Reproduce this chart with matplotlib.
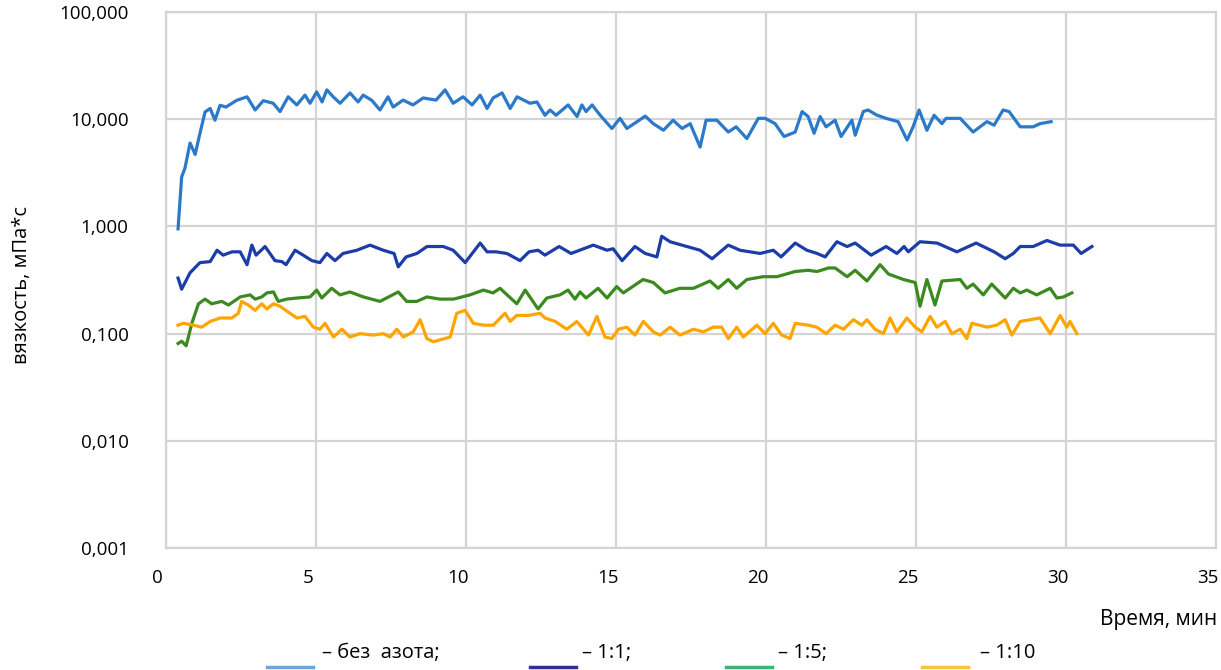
import numpy as np
import matplotlib
matplotlib.use('Agg')
import matplotlib.pyplot as plt
from matplotlib.ticker import FixedLocator, FuncFormatter
from matplotlib.lines import Line2D
from matplotlib.transforms import ScaledTranslation

# viscosity vs time, four gas ratios
t1 = [0.4, 0.52, 0.63, 0.8, 0.97, 1.13, 1.3, 1.47, 1.63, 1.8,
      2.0, 2.35, 2.7, 2.97, 3.24, 3.57, 3.8, 4.07, 4.36, 4.63,
      4.8, 5.02, 5.2, 5.36, 5.57, 5.8, 6.13, 6.4, 6.57, 6.86,
      7.13, 7.4, 7.57, 7.9, 8.23, 8.57, 9.0, 9.3, 9.57, 9.9,
      10.2, 10.47, 10.7, 10.9, 11.2, 11.47, 11.7, 12.13, 12.36, 12.63,
      12.8, 13.0, 13.4, 13.7, 13.86, 14.0, 14.2, 14.47, 14.86, 15.13,
      15.36, 15.7, 15.97, 16.24, 16.58, 16.9, 17.2, 17.47, 17.8, 18.0,
      18.36, 18.74, 19.0, 19.36, 19.74, 19.97, 20.3, 20.6, 20.97, 21.2,
      21.4, 21.6, 21.8, 22.0, 22.3, 22.5, 22.86, 22.97, 23.24, 23.4,
      23.7, 24.0, 24.4, 24.7, 24.9, 25.1, 25.36, 25.6, 25.86, 26.0,
      26.47, 26.9, 27.36, 27.6, 27.9, 28.1, 28.47, 28.9, 29.13, 29.5]
v1 = [0.95, 2.9, 3.5, 6.0, 4.7, 7.4, 11.7, 12.6, 9.8, 13.5,
      13.0, 15.0, 16.2, 12.2, 14.9, 14.1, 11.8, 16.2, 13.6, 16.8,
      14.1, 18.0, 14.5, 18.8, 16.2, 14.1, 17.6, 14.5, 16.8, 15.0,
      12.2, 16.2, 13.0, 15.1, 13.6, 15.8, 15.1, 18.8, 14.1, 16.2,
      13.6, 16.8, 12.6, 15.8, 17.6, 12.6, 16.2, 14.1, 14.5, 10.9,
      12.2, 10.9, 13.6, 10.6, 13.6, 11.8, 13.6, 10.9, 8.2, 10.2,
      8.2, 9.5, 10.7, 9.1, 7.9, 9.8, 8.2, 9.1, 5.5, 9.8,
      9.8, 7.6, 8.5, 6.6, 10.2, 10.2, 9.1, 6.9, 7.6, 11.8,
      10.6, 7.4, 10.6, 8.5, 9.8, 6.9, 9.8, 7.1, 11.8, 12.2,
      10.9, 10.2, 9.5, 6.4, 8.5, 12.2, 7.9, 10.9, 9.1, 10.2,
      10.2, 7.6, 9.5, 8.8, 12.2, 11.8, 8.5, 8.5, 9.1, 9.5]

t2 = [0.4, 0.52, 0.8, 1.13, 1.47, 1.7, 1.9, 2.2, 2.47, 2.7,
      2.86, 3.0, 3.3, 3.63, 3.86, 4.0, 4.3, 4.57, 4.86, 5.13,
      5.36, 5.63, 5.9, 6.36, 6.8, 7.24, 7.6, 7.74, 8.0, 8.36,
      8.7, 9.24, 9.57, 9.97, 10.47, 10.7, 11.0, 11.36, 11.8, 12.1,
      12.4, 12.63, 13.1, 13.5, 14.24, 14.7, 14.9, 15.2, 15.63, 15.97,
      16.36, 16.52, 16.8, 17.36, 17.8, 18.2, 18.74, 19.13, 19.8, 20.24,
      20.5, 20.97, 21.36, 21.7, 21.97, 22.36, 22.7, 22.97, 23.5, 24.0,
      24.36, 24.6, 24.74, 25.13, 25.7, 26.36, 27.0, 27.6, 27.97, 28.24,
      28.47, 28.9, 29.36, 29.8, 30.24, 30.5, 30.86]
v2 = [0.33, 0.26, 0.37, 0.46, 0.47, 0.6, 0.54, 0.58, 0.58, 0.44,
      0.67, 0.54, 0.65, 0.48, 0.47, 0.44, 0.6, 0.54, 0.48, 0.46,
      0.56, 0.48, 0.56, 0.6, 0.67, 0.6, 0.56, 0.42, 0.52, 0.56,
      0.65, 0.65, 0.6, 0.46, 0.7, 0.58, 0.58, 0.56, 0.48, 0.58,
      0.6, 0.54, 0.65, 0.56, 0.67, 0.6, 0.62, 0.48, 0.65, 0.56,
      0.52, 0.81, 0.72, 0.65, 0.6, 0.5, 0.67, 0.6, 0.56, 0.6,
      0.52, 0.7, 0.6, 0.56, 0.52, 0.72, 0.65, 0.7, 0.54, 0.65,
      0.56, 0.65, 0.58, 0.72, 0.7, 0.58, 0.7, 0.58, 0.5, 0.56,
      0.65, 0.65, 0.74, 0.67, 0.67, 0.56, 0.65]

t3 = [0.4, 0.52, 0.67, 0.86, 1.08, 1.3, 1.52, 1.86, 2.08, 2.47,
      2.8, 2.97, 3.19, 3.36, 3.58, 3.74, 4.02, 4.36, 4.8, 5.02,
      5.19, 5.52, 5.8, 6.13, 6.58, 7.13, 7.74, 8.02, 8.36, 8.69,
      9.13, 9.58, 10.13, 10.58, 10.9, 11.13, 11.69, 11.97, 12.4, 12.69,
      13.13, 13.4, 13.63, 13.8, 14.0, 14.4, 14.7, 15.02, 15.24, 15.9,
      16.24, 16.63, 17.13, 17.58, 18.13, 18.4, 18.74, 19.02, 19.36, 19.9,
      20.36, 20.97, 21.4, 21.7, 22.08, 22.3, 22.7, 22.97, 23.36, 23.8,
      24.08, 24.58, 24.97, 25.13, 25.36, 25.63, 25.86, 26.47, 26.69, 26.9,
      27.24, 27.52, 27.97, 28.24, 28.47, 28.69, 29.02, 29.47, 29.69, 29.91,
      30.19]
v3 = [0.081, 0.085, 0.077, 0.125, 0.19, 0.21, 0.19, 0.2, 0.185, 0.22,
      0.23, 0.21, 0.22, 0.24, 0.245, 0.2, 0.21, 0.215, 0.22, 0.255,
      0.215, 0.265, 0.23, 0.245, 0.22, 0.2, 0.245, 0.2, 0.2, 0.22,
      0.21, 0.21, 0.23, 0.255, 0.24, 0.265, 0.19, 0.255, 0.17, 0.215,
      0.23, 0.255, 0.21, 0.245, 0.215, 0.265, 0.215, 0.275, 0.24, 0.32,
      0.3, 0.24, 0.265, 0.265, 0.31, 0.265, 0.32, 0.265, 0.32, 0.34,
      0.34, 0.38, 0.39, 0.38, 0.41, 0.41, 0.34, 0.39, 0.31, 0.44,
      0.36, 0.32, 0.3, 0.18, 0.32, 0.185, 0.31, 0.32, 0.265, 0.29,
      0.23, 0.29, 0.215, 0.265, 0.24, 0.255, 0.23, 0.265, 0.215, 0.22,
      0.24]

t4 = [0.4, 0.58, 0.91, 1.19, 1.47, 1.8, 2.19, 2.41, 2.52, 2.74,
      2.97, 3.19, 3.36, 3.58, 3.8, 4.13, 4.36, 4.63, 4.91, 5.13,
      5.3, 5.58, 5.86, 6.13, 6.47, 6.91, 7.24, 7.47, 7.69, 7.91,
      8.24, 8.47, 8.69, 8.91, 9.47, 9.69, 9.97, 10.24, 10.58, 10.91,
      11.3, 11.47, 11.69, 12.08, 12.47, 12.63, 12.97, 13.36, 13.69, 14.08,
      14.36, 14.63, 14.86, 15.08, 15.36, 15.63, 15.91, 16.24, 16.47, 16.8,
      17.13, 17.58, 17.91, 18.24, 18.52, 18.74, 19.02, 19.24, 19.69, 19.97,
      20.24, 20.52, 20.8, 20.97, 21.41, 21.69, 22.0, 22.3, 22.58, 22.91,
      23.19, 23.36, 23.63, 23.91, 24.13, 24.36, 24.69, 24.97, 25.19, 25.47,
      25.69, 25.97, 26.19, 26.47, 26.69, 26.86, 27.36, 27.69, 27.97, 28.19,
      28.47, 28.8, 29.13, 29.47, 29.8, 30.02, 30.13, 30.36]
v4 = [0.12, 0.125, 0.12, 0.115, 0.13, 0.14, 0.14, 0.155, 0.2, 0.185,
      0.165, 0.19, 0.17, 0.19, 0.18, 0.155, 0.14, 0.145, 0.115, 0.11,
      0.125, 0.093, 0.11, 0.093, 0.1, 0.097, 0.1, 0.093, 0.11, 0.093,
      0.104, 0.135, 0.09, 0.084, 0.093, 0.155, 0.165, 0.125, 0.12, 0.12,
      0.155, 0.13, 0.148, 0.148, 0.155, 0.14, 0.13, 0.11, 0.13, 0.097,
      0.145, 0.093, 0.09, 0.11, 0.115, 0.097, 0.13, 0.104, 0.097, 0.115,
      0.097, 0.11, 0.104, 0.115, 0.115, 0.09, 0.115, 0.093, 0.12, 0.1,
      0.125, 0.097, 0.09, 0.125, 0.12, 0.115, 0.1, 0.12, 0.11, 0.135,
      0.12, 0.135, 0.11, 0.1, 0.14, 0.104, 0.14, 0.115, 0.104, 0.145,
      0.115, 0.13, 0.1, 0.11, 0.09, 0.125, 0.115, 0.12, 0.135, 0.097,
      0.13, 0.135, 0.14, 0.1, 0.148, 0.115, 0.13, 0.1]

labels = ['– без  азота;', '– 1:1;', '– 1:5;', '– 1:10']
line_colors = ['#2b79c9', '#1c3da8', '#3b8a1e', '#ffa500']
key_colors = ['#6fa3dc', '#2e3192', '#3cb371', '#f5c342']
y_ticks = [0.001, 0.01, 0.1, 1, 10, 100]
x_ticks = [0, 5, 10, 15, 20, 25, 30, 35]

grid_c = '#d4d4d4'
plt.rcParams['font.family'] = ['Open Sans', 'DejaVu Sans']

fig = plt.figure(figsize=(12.21, 6.70), dpi=100)
ax = fig.add_axes([0.136, 0.182, 0.860, 0.800])

for tt, vv, cc in zip([t1, t2, t3, t4], [v1, v2, v3, v4], line_colors):
    ax.plot(tt, vv, color=cc, lw=2.3, solid_joinstyle='round', zorder=3)

ax.set_yscale('log')
ax.set_ylim(0.001, 100)
ax.set_xlim(0, 35)
ax.yaxis.set_major_locator(FixedLocator(y_ticks))
ax.yaxis.set_minor_locator(FixedLocator([]))
ax.yaxis.set_major_formatter(FuncFormatter(lambda v, p: ('%.3f' % v).replace('.', ',')))
ax.set_xticks(x_ticks)
ax.tick_params(length=0, labelsize=13.5)
ax.tick_params(axis='y', pad=27)
ax.tick_params(axis='x', pad=15)
# x labels sit a little left of their gridlines in the original
shift = ScaledTranslation(-6 / 72, 0, fig.dpi_scale_trans)
for lb in ax.get_xticklabels():
    lb.set_transform(lb.get_transform() + shift)
ax.grid(True, color=grid_c, lw=1.6)
for sp in ax.spines.values():
    sp.set_color(grid_c)
    sp.set_linewidth(1.6)
ax.set_axisbelow(True)

ax.set_ylabel('вязкость, мПа*с', fontsize=14.5)
ax.yaxis.set_label_coords(-0.128, 0.49)
fig.text(0.997, 0.075, 'Время, мин', fontsize=15, ha='right', va='center')

# hand-made key under the chart
key_x0 = [267, 530, 726, 922]
key_tx = [322, 582, 778, 980]
for kx, tx, lab, kc in zip(key_x0, key_tx, labels, key_colors):
    fig.add_artist(Line2D([kx / 1221, (kx + 46) / 1221], [0.004, 0.004], color=kc,
                          lw=2.5, transform=fig.transFigure))
    fig.text(tx / 1221, 0.025, lab, fontsize=14.5, ha='left', va='center')

fig.savefig('out.png', dpi=100)
